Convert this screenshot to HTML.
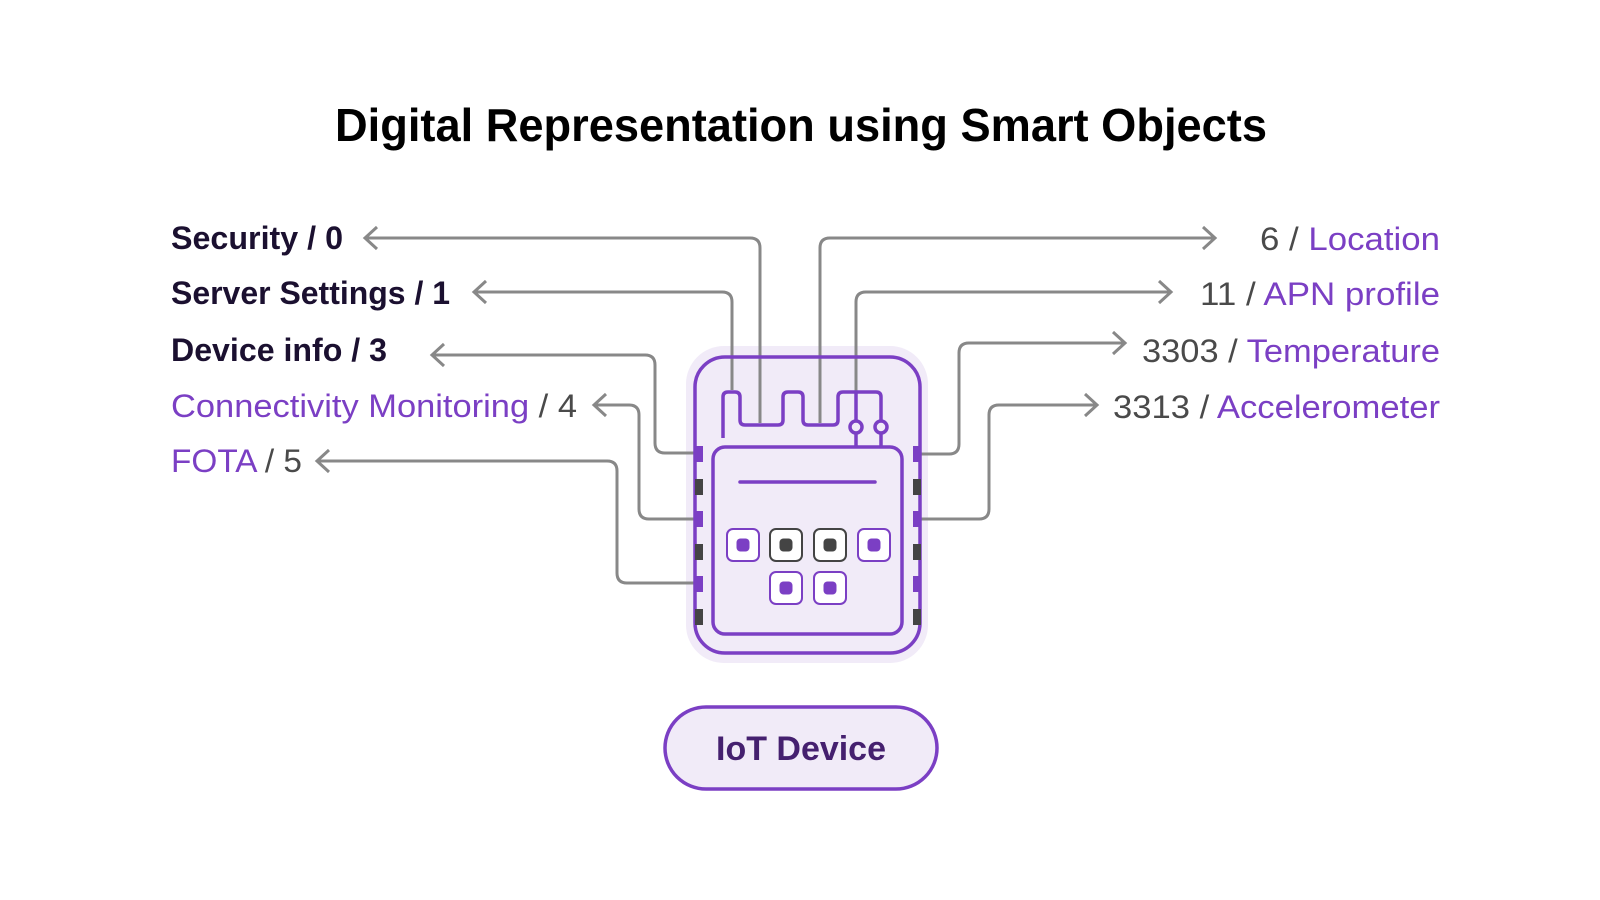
<!DOCTYPE html>
<html><head><meta charset="utf-8"><style>
html,body{margin:0;padding:0;background:#fff;width:1600px;height:900px;overflow:hidden}
svg{display:block}
text{font-family:"Liberation Sans",sans-serif}
</style></head><body>
<svg width="1600" height="900" viewBox="0 0 1600 900" xmlns="http://www.w3.org/2000/svg">
<text x="335" y="141" font-size="46" font-weight="bold" fill="#000" textLength="932" lengthAdjust="spacingAndGlyphs">Digital Representation using Smart Objects</text>

<g font-size="32">
<text x="171" y="249" font-weight="bold" fill="#1B1030" textLength="172" lengthAdjust="spacingAndGlyphs">Security / 0</text>
<text x="171" y="304" font-weight="bold" fill="#1B1030" textLength="279" lengthAdjust="spacingAndGlyphs">Server Settings / 1</text>
<text x="171" y="361" font-weight="bold" fill="#1B1030" textLength="216" lengthAdjust="spacingAndGlyphs">Device info / 3</text>
<text x="171" y="417" textLength="406" lengthAdjust="spacingAndGlyphs"><tspan fill="#7B3FC4">Connectivity Monitoring</tspan><tspan fill="#4A4A4A"> / 4</tspan></text>
<text x="171" y="472" textLength="131" lengthAdjust="spacingAndGlyphs"><tspan fill="#7B3FC4">FOTA</tspan><tspan fill="#4A4A4A"> / 5</tspan></text>

<text x="1260" y="250" textLength="180" lengthAdjust="spacingAndGlyphs"><tspan fill="#4A4A4A">6 / </tspan><tspan fill="#7B3FC4">Location</tspan></text>
<text x="1200" y="305" textLength="240" lengthAdjust="spacingAndGlyphs"><tspan fill="#4A4A4A">11 / </tspan><tspan fill="#7B3FC4">APN profile</tspan></text>
<text x="1142" y="362" textLength="298" lengthAdjust="spacingAndGlyphs"><tspan fill="#4A4A4A">3303 / </tspan><tspan fill="#7B3FC4">Temperature</tspan></text>
<text x="1113" y="418" textLength="327" lengthAdjust="spacingAndGlyphs"><tspan fill="#4A4A4A">3313 / </tspan><tspan fill="#7B3FC4">Accelerometer</tspan></text>
</g>

<rect x="686" y="346" width="242" height="317" rx="38" fill="#F1EBF8"/>

<g fill="none" stroke="#888" stroke-width="3">
<path d="M365,238 H750 Q760,238 760,248 V423"/>
<path d="M474,292 H722 Q732,292 732,302 V390"/>
<path d="M432,355 H645 Q655,355 655,365 V443 Q655,453 665,453 H695"/>
<path d="M594,405 H629 Q639,405 639,415 V509 Q639,519 649,519 H695"/>
<path d="M317,461 H607 Q617,461 617,471 V573 Q617,583 627,583 H695"/>
<path d="M1215,238 H830 Q820,238 820,248 V423"/>
<path d="M1171,292 H866 Q856,292 856,302 V392"/>
<path d="M920,454 H949 Q959,454 959,444 V353 Q959,343 969,343 H1125"/>
<path d="M920,519 H979 Q989,519 989,509 V415 Q989,405 999,405 H1097"/>
<polyline points="377,227 365,238 377,249"/>
<polyline points="486,281 474,292 486,303"/>
<polyline points="444,344 432,355 444,366"/>
<polyline points="606,394 594,405 606,416"/>
<polyline points="329,450 317,461 329,472"/>
<polyline points="1203,227 1215,238 1203,249"/>
<polyline points="1159,281 1171,292 1159,303"/>
<polyline points="1113,332 1125,343 1113,354"/>
<polyline points="1085,394 1097,405 1085,416"/>
</g>

<g fill="none" stroke="#7B3FC4" stroke-width="3.5">
<rect x="695" y="357" width="225" height="296" rx="30"/>
<rect x="713" y="447" width="189" height="187" rx="12"/>
<path d="M723,438 V397 Q723,392 728,392 H735 Q740,392 740,397 V420 Q740,425 745,425 H778 Q783,425 783,420 V397 Q783,392 788,392 H798 Q803,392 803,397 V420 Q803,425 808,425 H833 Q838,425 838,420 V397 Q838,392 843,392 H876 Q881,392 881,397 V421"/>
<path d="M856,392 V421"/>
<circle cx="856" cy="427" r="6"/>
<circle cx="881" cy="427" r="6"/>
<path d="M856,433 V447 M881,433 V447"/>
<path d="M740,482 H875" stroke-linecap="round"/>
</g>
<g>
<rect x="695" y="446" width="8" height="16" fill="#7B3FC4"/>
<rect x="695" y="479" width="8" height="16" fill="#444"/>
<rect x="695" y="511" width="8" height="16" fill="#7B3FC4"/>
<rect x="695" y="544" width="8" height="16" fill="#444"/>
<rect x="695" y="576" width="8" height="16" fill="#7B3FC4"/>
<rect x="695" y="609" width="8" height="16" fill="#444"/>
<rect x="913" y="446" width="8" height="16" fill="#7B3FC4"/>
<rect x="913" y="479" width="8" height="16" fill="#444"/>
<rect x="913" y="511" width="8" height="16" fill="#7B3FC4"/>
<rect x="913" y="544" width="8" height="16" fill="#444"/>
<rect x="913" y="576" width="8" height="16" fill="#7B3FC4"/>
<rect x="913" y="609" width="8" height="16" fill="#444"/>
</g>
<g stroke-width="2">
<rect x="727" y="529" width="32" height="32" rx="6" fill="#fff" stroke="#7B3FC4"/>
<rect x="770" y="529" width="32" height="32" rx="6" fill="#fff" stroke="#444"/>
<rect x="814" y="529" width="32" height="32" rx="6" fill="#fff" stroke="#444"/>
<rect x="858" y="529" width="32" height="32" rx="6" fill="#fff" stroke="#7B3FC4"/>
<rect x="770" y="572" width="32" height="32" rx="6" fill="#fff" stroke="#7B3FC4"/>
<rect x="814" y="572" width="32" height="32" rx="6" fill="#fff" stroke="#7B3FC4"/>
</g>
<g>
<rect x="736.5" y="538.5" width="13" height="13" rx="4" fill="#7B3FC4"/>
<rect x="779.5" y="538.5" width="13" height="13" rx="4" fill="#444"/>
<rect x="823.5" y="538.5" width="13" height="13" rx="4" fill="#444"/>
<rect x="867.5" y="538.5" width="13" height="13" rx="4" fill="#7B3FC4"/>
<rect x="779.5" y="581.5" width="13" height="13" rx="4" fill="#7B3FC4"/>
<rect x="823.5" y="581.5" width="13" height="13" rx="4" fill="#7B3FC4"/>
</g>

<rect x="665" y="707" width="272" height="82" rx="41" fill="#F1EBF8" stroke="#7B3FC4" stroke-width="3.5"/>
<text x="801" y="760" font-size="34" font-weight="bold" fill="#45206F" text-anchor="middle" textLength="170" lengthAdjust="spacingAndGlyphs">IoT Device</text>
</svg>
</body></html>
